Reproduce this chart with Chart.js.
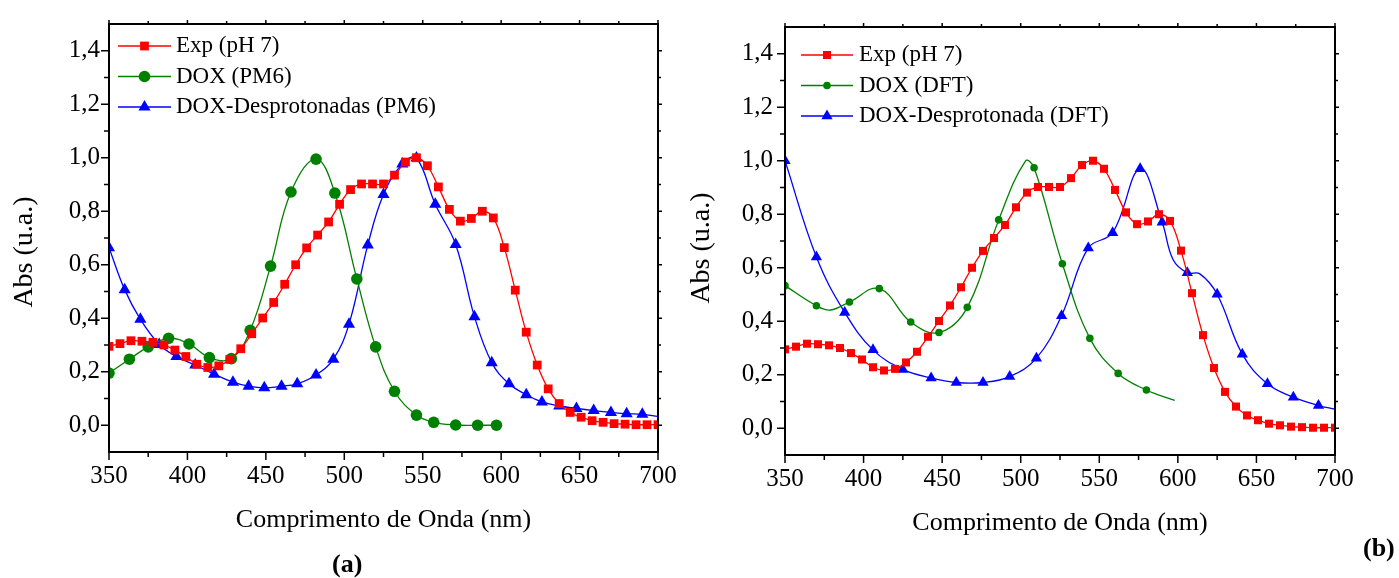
<!DOCTYPE html>
<html lang="pt">
  <head>
    <meta charset="UTF-8" />
    <title>Espectros de absorção da DOX</title>
    <script src="https://cdn.jsdelivr.net/npm/chart.js"></script>
    <style>
      body {
        margin: 0;
        background: #fff;
        width: 1399px;
        height: 578px;
        overflow: hidden;
        position: relative;
        font-family: 'Liberation Serif', serif;
      }
      canvas {
        position: absolute;
        top: 0;
      }
      #chartA { left: 0; }
      #chartB { left: 680px; }
      .panel {
        position: absolute;
        font-weight: bold;
        font-size: 26px;
        line-height: 26px;
        white-space: nowrap;
      }
    </style>
  </head>
  <body>
    <canvas id="chartA" width="700" height="578"></canvas>
    <canvas id="chartB" width="719" height="578"></canvas>
    <div class="panel" style="left: 332px; top: 551px">(a)</div>
    <div class="panel" style="left: 1363px; top: 535px">(b)</div>

    <script>
      // ticks
      const xTicks = [350, 400, 450, 500, 550, 600, 650, 700];
      const yTicks = [0, 0.2, 0.4, 0.6, 0.8, 1.0, 1.2, 1.4];

      // Exp (pH 7) - same curve in both panels
      const expX = [350, 357, 364, 371, 378, 385, 392, 399, 406, 413, 420, 427, 434, 441, 448, 455, 462,
        469, 476, 483, 490, 497, 504, 511, 518, 525, 532, 539, 546, 553, 560, 567, 574, 581, 588, 595,
        602, 609, 616, 623, 630, 637, 644, 651, 658, 665, 672, 679, 686, 693, 700];
      const expAbs = [0.295, 0.305, 0.316, 0.314, 0.31, 0.3, 0.281, 0.257, 0.228, 0.216, 0.222, 0.246,
        0.286, 0.342, 0.401, 0.459, 0.527, 0.6, 0.663, 0.711, 0.76, 0.826, 0.881, 0.902, 0.902, 0.902,
        0.935, 0.984, 1.0, 0.97, 0.891, 0.807, 0.763, 0.773, 0.8, 0.775, 0.664, 0.505, 0.348, 0.225,
        0.136, 0.081, 0.048, 0.03, 0.017, 0.011, 0.006, 0.004, 0.002, 0.002, 0.002];

      // (a) DOX (PM6)
      const pm6X = [350, 363, 375, 388, 401, 414, 428, 440, 453, 466, 482, 494, 508, 520, 532, 546,
        557, 571, 585, 597];
      const pm6Abs = [0.195, 0.247, 0.293, 0.325, 0.304, 0.253, 0.249, 0.355, 0.595, 0.872, 0.995,
        0.868, 0.547, 0.293, 0.127, 0.038, 0.011, 0.001, 0.0, 0.0];

      // (a) DOX-Desprotonadas (PM6)
      const pm6DespX = [350, 360, 370, 382, 393, 405, 417, 429, 439, 449, 460, 470, 482, 493, 503, 515,
        525, 537, 546, 558, 571, 583, 594, 605, 616, 626, 637, 648, 659, 670, 680, 690, 700];
      const pm6DespAbs = [0.664, 0.507, 0.396, 0.302, 0.257, 0.225, 0.191, 0.161, 0.146, 0.14, 0.146,
        0.155, 0.188, 0.247, 0.378, 0.674, 0.863, 0.977, 0.999, 0.826, 0.676, 0.406, 0.234, 0.155,
        0.114, 0.087, 0.072, 0.063, 0.055, 0.048, 0.043, 0.041, 0.033];
      const pm6DespMarked = [1, 1, 1, 1, 1, 1, 1, 1, 1, 1, 1, 1, 1, 1, 1, 1, 1, 1, 1, 1, 1, 1, 1, 1,
        1, 1, 1, 1, 1, 1, 1, 1, 0];

      // (b) DOX (DFT)
      const dftX = [350, 370, 379, 391, 410, 430, 448, 466, 486, 503, 508.5, 526.5, 544, 562, 580, 598];
      const dftAbs = [0.533, 0.458, 0.442, 0.472, 0.522, 0.397, 0.358, 0.452, 0.779, 0.999, 0.974,
        0.615, 0.336, 0.205, 0.143, 0.104];
      const dftMarked = [1, 1, 0, 1, 1, 1, 1, 1, 1, 0, 1, 1, 1, 1, 1, 0];

      // (b) DOX-Desprotonada (DFT)
      const dftDespX = [350, 370, 388, 406, 425, 443, 459, 476, 493, 510, 526, 543, 558.5, 576, 590,
        597, 606, 614, 625, 641, 657, 673.5, 689.5, 700];
      const dftDespAbs = [1.0, 0.64, 0.433, 0.293, 0.22, 0.188, 0.171, 0.171, 0.193, 0.262, 0.421,
        0.674, 0.731, 0.97, 0.77, 0.63, 0.581, 0.577, 0.501, 0.277, 0.166, 0.116, 0.085, 0.071];
      const dftDespMarked = [1, 1, 1, 1, 1, 1, 1, 1, 1, 1, 1, 1, 1, 1, 1, 0, 1, 0, 1, 1, 1, 1, 1, 0];

      const RED = '#ff0000';
      const GREEN = '#008000';
      const BLUE = '#0000ff';
      const SERIF = 'Liberation Serif';

      Chart.defaults.font.family = SERIF;
      Chart.defaults.color = '#000';

      function series(label, xs, ys, color, style, radius, marked) {
        return {
          label,
          data: xs.map((x, i) => ({ x, y: ys[i] })),
          borderColor: color,
          backgroundColor: color,
          borderWidth: 1.3,
          tension: 0.4,
          pointStyle: style,
          pointRadius: marked ? (c) => (marked[c.dataIndex] ? radius : 0) : radius,
          pointBorderWidth: 0,
          legendRadius: radius,
          clip: 0,
        };
      }

      // box round the plot + major/minor ticks
      const frameTicks = {
        id: 'frameTicks',
        afterDraw(chart) {
          const { ctx, chartArea: a, scales } = chart;
          const xs = scales.x;
          const ys = scales.y;
          ctx.save();
          ctx.strokeStyle = '#000';
          ctx.lineWidth = 2;
          ctx.strokeRect(a.left, a.top, a.right - a.left, a.bottom - a.top);
          ctx.lineWidth = 1.5;
          const line = (x1, y1, x2, y2) => {
            ctx.beginPath();
            ctx.moveTo(x1, y1);
            ctx.lineTo(x2, y2);
            ctx.stroke();
          };
          const withMinor = (ticks) => {
            const out = [];
            ticks.forEach((v, i) => {
              out.push([v, true]);
              if (i < ticks.length - 1) out.push([(v + ticks[i + 1]) / 2, false]);
            });
            return out;
          };
          withMinor(xTicks).forEach(([v, major]) => {
            const px = xs.getPixelForValue(v);
            line(px, a.bottom, px, a.bottom + (major ? 8 : 5));
            line(px, a.top, px, a.top - (major ? 4 : 3));
          });
          withMinor(yTicks).forEach(([v, major]) => {
            const py = ys.getPixelForValue(v);
            line(a.left, py, a.left - (major ? 8 : 5), py);
            line(a.right, py, a.right + (major ? 4 : 3), py);
          });
          ctx.restore();
        },
      };

      // legend with a line through the marker
      const lineLegend = {
        id: 'lineLegend',
        afterDraw(chart, args, opts) {
          const { ctx, chartArea } = chart;
          ctx.save();
          ctx.font = '23px "' + SERIF + '"';
          ctx.textBaseline = 'middle';
          chart.data.datasets.forEach((ds, i) => {
            const x0 = chartArea.left + opts.left;
            const y = chartArea.top + opts.top + i * opts.rowGap;
            ctx.strokeStyle = ds.borderColor;
            ctx.lineWidth = 1.5;
            ctx.beginPath();
            ctx.moveTo(x0, y);
            ctx.lineTo(x0 + opts.lineLen, y);
            ctx.stroke();
            ctx.fillStyle = ds.backgroundColor;
            Chart.helpers.drawPoint(
              ctx,
              { pointStyle: ds.pointStyle, radius: ds.legendRadius, rotation: 0, borderWidth: 0 },
              x0 + opts.lineLen / 2,
              y
            );
            ctx.fillStyle = '#000';
            ctx.fillText(ds.label, x0 + opts.lineLen + opts.textGap, y);
          });
          ctx.restore();
        },
      };

      function makeChart(id, p) {
        return new Chart(document.getElementById(id), {
          type: 'line',
          data: { datasets: p.datasets },
          options: {
            responsive: false,
            animation: false,
            events: [],
            layout: { padding: { left: 0, top: p.top, right: p.right, bottom: 0 } },
            scales: {
              x: {
                type: 'linear',
                min: 350,
                max: 700,
                afterBuildTicks: (s) => { s.ticks = xTicks.map((v) => ({ value: v })); },
                afterFit: (s) => { s.height = p.xHeight; },
                grid: { display: false, drawTicks: false },
                border: { display: false },
                ticks: {
                  padding: 9,
                  autoSkip: false,
                  maxRotation: 0,
                  font: { size: 25 },
                  callback: (v) => String(v),
                },
                title: {
                  display: true,
                  text: 'Comprimento de Onda (nm)',
                  font: { size: 26 },
                  padding: { top: 0, bottom: p.xTitlePad },
                },
              },
              y: {
                type: 'linear',
                min: -0.1,
                max: 1.5,
                afterBuildTicks: (s) => { s.ticks = yTicks.map((v) => ({ value: v })); },
                afterFit: (s) => { s.width = p.yWidth; },
                grid: { display: false, drawTicks: false },
                border: { display: false },
                ticks: {
                  padding: p.yTickPad,
                  font: { size: 25 },
                  callback: (v) => v.toFixed(1).replace('.', ','),
                },
                title: {
                  display: true,
                  text: 'Abs (u.a.)' + p.yTitleTail,
                  font: { size: 28 },
                  padding: { top: p.yTitlePad, bottom: 0 },
                },
              },
            },
            plugins: {
              legend: { display: false },
              tooltip: { enabled: false },
              lineLegend: p.legend,
            },
          },
          plugins: [frameTicks, lineLegend],
        });
      }

      makeChart('chartA', {
        top: 16,
        right: 42,
        yWidth: 109,
        xHeight: 126,
        xTitlePad: 42,
        yTickPad: 9,
        yTitlePad: 8,
        yTitleTail: '\u2003',
        legend: { left: 9, top: 22, rowGap: 30.5, lineLen: 53, textGap: 5 },
        datasets: [
          series('Exp (pH 7)', expX, expAbs, RED, 'rect', 6.2),
          series('DOX (PM6)', pm6X, pm6Abs, GREEN, 'circle', 5.8),
          series('DOX-Desprotonadas (PM6)', pm6DespX, pm6DespAbs, BLUE, 'triangle', 7, pm6DespMarked),
        ],
      });

      makeChart('chartB', {
        top: 23,
        right: 64,
        yWidth: 105,
        xHeight: 123,
        xTitlePad: 39,
        yTickPad: 12,
        yTitlePad: 5,
        yTitleTail: '\u2002',
        legend: { left: 16, top: 28, rowGap: 30.5, lineLen: 52, textGap: 6 },
        datasets: [
          series('Exp (pH 7)', expX, expAbs, RED, 'rect', 5.7),
          series('DOX (DFT)', dftX, dftAbs, GREEN, 'circle', 3.8, dftMarked),
          series('DOX-Desprotonada (DFT)', dftDespX, dftDespAbs, BLUE, 'triangle', 6.5, dftDespMarked),
        ],
      });
    </script>
  </body>
</html>
